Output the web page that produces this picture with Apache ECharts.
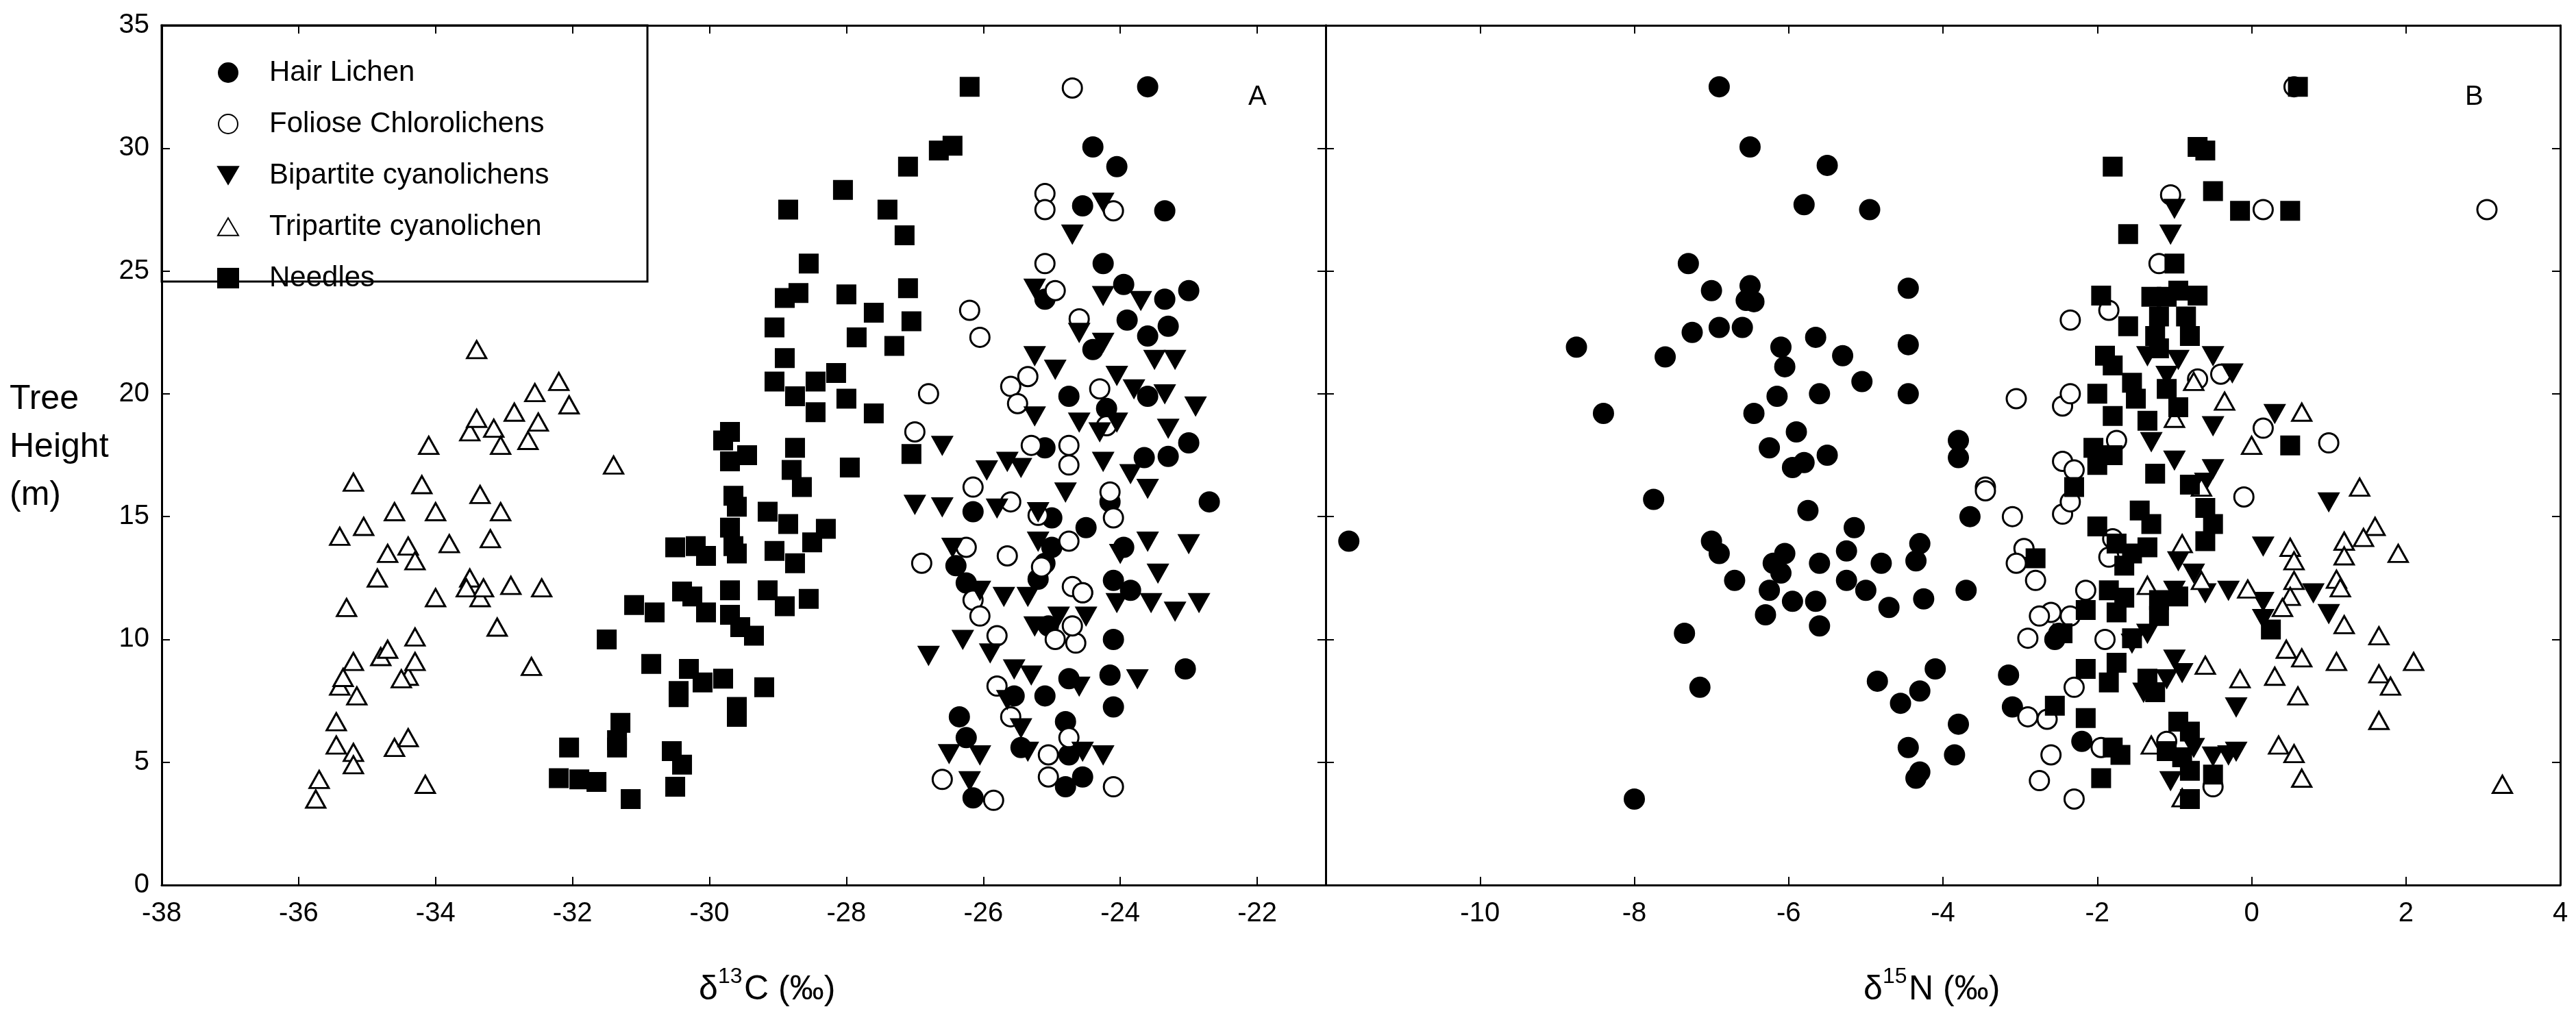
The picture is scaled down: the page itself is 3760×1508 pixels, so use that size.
<!DOCTYPE html>
<html>
<head>
<meta charset="utf-8">
<script src="https://cdn.jsdelivr.net/npm/echarts@6/dist/echarts.min.js"></script>
<style>html,body{margin:0;background:#fff}#c{width:3760px;height:1508px}</style>
</head>
<body>
<div id="c"></div>
<script>
var seriesNames = ['Hair Lichen', 'Foliose Chlorolichens', 'Bipartite cyanolichens', 'Tripartite cyanolichen', 'Needles'];
var xTicksC = [-38, -21, 2];
var xTicksN = [-12, 4, 2];
var yTicks = [0, 35, 5];

// panel A: d13C vs tree height
var hairC = [[-23.6,32.5],[-24.4,30.05],[-24.05,29.25],[-24.55,27.65],[-23.35,27.45],[-24.25,25.3],[-23.95,24.45],[-23.0,24.2],[-25.1,23.85],[-23.35,23.85],[-23.9,23.0],[-23.3,22.75],[-23.6,22.35],[-24.4,21.8],[-24.75,19.9],[-24.2,19.4],[-23.6,19.9],[-25.1,17.8],[-23.0,18.0],[-23.65,17.4],[-23.3,17.45],[-22.7,15.6],[-26.15,15.2],[-25.0,14.95],[-24.5,14.55],[-24.15,15.6],[-23.95,13.75],[-25.0,13.75],[-24.1,12.4],[-23.85,12.0],[-26.4,13.0],[-26.25,12.3],[-25.1,13.1],[-25.2,12.45],[-24.55,11.9],[-25.05,10.55],[-24.1,10.0],[-23.05,8.8],[-24.15,8.55],[-24.75,8.4],[-25.1,7.7],[-24.1,7.25],[-25.55,7.7],[-26.35,6.85],[-26.25,6.0],[-25.45,5.6],[-24.8,6.65],[-24.55,4.4],[-24.8,4.0],[-26.15,3.55],[-24.75,5.3]];
var folioseC = [[-24.7,32.45],[-25.1,28.15],[-25.1,27.5],[-24.1,27.45],[-25.1,25.3],[-24.95,24.2],[-24.6,23.05],[-26.2,23.4],[-26.05,22.3],[-26.8,20.0],[-25.6,20.3],[-25.35,20.7],[-25.5,19.6],[-24.3,20.2],[-27.0,18.45],[-25.3,17.9],[-24.75,17.9],[-24.75,17.1],[-26.15,16.2],[-25.6,15.6],[-24.1,14.95],[-24.15,16.0],[-26.9,13.1],[-26.25,13.75],[-25.65,13.4],[-25.15,12.95],[-24.75,14.0],[-24.7,12.15],[-24.55,11.9],[-26.15,11.6],[-26.05,10.95],[-25.8,10.15],[-24.95,10.0],[-24.65,9.85],[-24.7,10.55],[-25.8,8.1],[-25.6,6.85],[-24.75,6.0],[-25.05,5.3],[-25.05,4.4],[-26.6,4.3],[-25.85,3.45],[-24.1,4.0],[-24.2,18.7],[-25.2,15.05]];
var bipartiteC = [[-24.7,26.5],[-24.25,27.8],[-25.25,24.3],[-24.25,24.0],[-23.7,23.8],[-24.6,22.5],[-24.25,22.1],[-25.25,21.55],[-24.95,21.0],[-23.5,21.4],[-23.2,21.4],[-24.05,20.75],[-23.8,20.2],[-23.35,20.0],[-22.9,19.5],[-25.25,19.1],[-24.05,18.85],[-24.6,18.85],[-24.3,18.45],[-23.3,18.6],[-26.6,17.9],[-25.95,16.9],[-25.65,17.25],[-25.45,17.0],[-24.25,17.25],[-23.85,16.75],[-23.6,16.15],[-27.0,15.5],[-26.6,15.4],[-25.8,15.35],[-25.2,15.2],[-24.8,16.0],[-26.45,13.75],[-25.2,14.0],[-23.6,14.0],[-23.0,13.9],[-23.45,12.7],[-24.0,13.5],[-26.05,12.0],[-25.7,11.75],[-25.35,11.75],[-24.9,10.95],[-24.5,10.95],[-24.05,11.5],[-23.55,11.5],[-23.2,11.15],[-22.85,11.5],[-26.3,10.0],[-25.25,10.55],[-26.8,9.35],[-25.9,9.45],[-25.55,8.8],[-25.3,8.55],[-24.6,8.1],[-23.75,8.4],[-25.65,7.55],[-26.5,5.35],[-26.05,5.3],[-25.35,5.45],[-24.55,5.45],[-24.25,5.3],[-26.2,4.25],[-25.45,6.4]];
var tripartiteC = [[-35.75,3.5],[-35.7,4.3],[-35.45,6.65],[-35.45,5.7],[-35.4,8.1],[-35.35,8.45],[-35.3,11.3],[-35.2,16.4],[-35.4,14.2],[-35.2,9.1],[-35.15,7.7],[-35.2,5.4],[-35.2,4.9],[-35.05,14.6],[-34.85,12.5],[-34.8,9.3],[-34.7,9.6],[-34.7,13.5],[-34.6,15.2],[-34.6,5.6],[-34.4,6.0],[-34.4,8.5],[-34.5,8.4],[-34.4,13.8],[-34.3,13.2],[-34.3,10.1],[-34.3,9.1],[-34.2,16.3],[-34.15,4.1],[-34.1,17.9],[-34.0,15.2],[-34.0,11.7],[-33.8,13.9],[-33.5,18.45],[-33.4,21.8],[-33.4,19.0],[-33.5,12.5],[-33.55,12.1],[-33.35,15.9],[-33.35,11.7],[-33.3,12.1],[-33.2,14.1],[-33.15,18.6],[-33.05,17.9],[-33.05,15.2],[-33.1,10.5],[-32.85,19.25],[-32.9,12.2],[-32.65,18.1],[-32.55,20.05],[-32.5,18.85],[-32.45,12.1],[-32.6,8.9],[-32.2,20.5],[-32.05,19.55],[-31.4,17.1]];
var needlesC = [[-26.2,32.5],[-26.65,29.9],[-26.45,30.1],[-27.1,29.25],[-28.05,28.3],[-28.85,27.5],[-27.4,27.5],[-27.15,26.45],[-28.55,25.3],[-27.1,24.3],[-28.0,24.05],[-28.9,23.9],[-28.7,24.1],[-27.6,23.3],[-27.05,22.95],[-27.85,22.3],[-29.05,22.7],[-27.3,21.95],[-28.9,21.45],[-28.15,20.85],[-29.05,20.5],[-28.45,20.5],[-28.0,19.8],[-28.75,19.9],[-28.45,19.25],[-27.6,19.2],[-27.05,17.55],[-27.95,17.0],[-29.8,18.1],[-29.7,18.45],[-29.45,17.5],[-28.75,17.8],[-28.8,16.9],[-28.65,16.2],[-29.7,17.25],[-29.65,15.85],[-29.6,15.4],[-29.7,14.55],[-29.15,15.2],[-28.85,14.7],[-28.3,14.5],[-28.5,13.95],[-29.6,13.5],[-29.65,13.8],[-30.5,13.75],[-30.2,13.8],[-30.05,13.4],[-29.05,13.6],[-28.75,13.1],[-29.7,12.0],[-29.15,12.0],[-28.55,11.65],[-28.9,11.35],[-30.4,11.95],[-30.25,11.75],[-30.05,11.1],[-29.7,11.0],[-29.55,10.5],[-29.35,10.15],[-31.1,11.4],[-30.8,11.1],[-31.5,10.0],[-30.85,9.0],[-30.3,8.8],[-30.1,8.25],[-29.8,8.4],[-29.2,8.05],[-30.45,7.9],[-30.45,7.65],[-29.6,7.25],[-29.6,6.85],[-31.3,6.6],[-31.35,5.9],[-31.35,5.6],[-32.05,5.6],[-30.55,5.45],[-30.4,4.9],[-30.5,4.0],[-32.2,4.35],[-31.9,4.3],[-31.65,4.2],[-31.15,3.5]];

// panel B: d15N vs tree height
var hairN = [[-11.7,14.0],[-8.0,3.5],[-8.4,19.2],[-8.75,21.9],[-7.6,21.5],[-7.75,15.7],[-7.3,25.3],[-7.25,22.5],[-7.0,24.2],[-6.9,22.7],[-6.9,32.5],[-6.5,30.05],[-6.55,23.8],[-6.5,24.4],[-6.45,23.75],[-6.6,22.7],[-7.0,14.0],[-6.9,13.5],[-7.35,10.25],[-7.15,8.05],[-6.7,12.4],[-6.45,19.2],[-6.25,17.8],[-6.1,21.9],[-6.05,21.1],[-6.15,19.9],[-6.2,13.1],[-6.1,12.7],[-6.25,12.0],[-6.3,11.0],[-6.05,13.5],[-5.95,11.55],[-5.9,18.45],[-5.95,17.0],[-5.8,17.2],[-5.75,15.25],[-5.8,27.7],[-5.5,29.3],[-5.65,22.3],[-5.6,20.0],[-5.5,17.5],[-5.6,13.1],[-5.65,11.55],[-5.6,10.55],[-5.3,21.55],[-5.25,13.6],[-5.15,14.55],[-5.25,12.4],[-5.05,20.5],[-5.0,12.0],[-4.95,27.5],[-4.8,13.1],[-4.7,11.3],[-4.85,8.3],[-4.55,7.4],[-4.45,24.3],[-4.45,22.0],[-4.45,20.0],[-4.35,13.2],[-4.3,13.9],[-4.25,11.65],[-4.3,7.9],[-4.45,5.6],[-4.35,4.35],[-4.3,4.6],[-4.1,8.8],[-3.8,18.1],[-3.8,17.4],[-3.65,15.0],[-3.7,12.0],[-3.8,6.55],[-3.85,5.3],[-3.15,8.55],[-3.1,7.25],[-2.55,10.0],[-2.2,5.85],[-2.5,10.25]];
var folioseN = [[0.55,32.5],[3.05,27.5],[0.15,27.5],[-1.05,28.1],[-1.2,25.3],[-2.35,23.0],[-1.85,23.4],[-3.05,19.8],[-2.45,19.5],[-2.35,20.0],[0.15,18.6],[1.0,18.0],[-2.45,17.25],[-2.3,16.9],[-1.75,18.1],[-3.45,16.2],[-3.45,16.05],[-3.1,15.0],[-2.45,15.1],[-2.35,15.6],[-0.1,15.8],[-2.95,13.7],[-3.05,13.1],[-1.8,14.1],[-1.85,13.35],[-2.8,12.4],[-2.15,12.0],[-2.6,11.1],[-2.75,10.95],[-2.9,10.05],[-1.9,10.0],[-2.35,10.95],[-2.65,6.75],[-2.9,6.85],[-2.3,8.05],[-1.95,5.6],[-2.6,5.3],[-2.75,4.25],[-2.3,3.5],[-0.5,4.0],[-1.1,5.85],[-0.4,20.8],[-0.7,20.6]];
var bipartiteN = [[-1.0,27.55],[-1.05,26.5],[-0.95,21.4],[-0.5,21.55],[-0.25,20.85],[-1.1,20.75],[-1.35,21.55],[-0.5,18.7],[0.3,19.2],[-1.3,18.05],[-1.0,17.3],[-0.5,16.95],[-0.6,16.4],[1.0,15.6],[0.15,13.8],[-0.95,13.2],[-0.75,12.7],[-1.0,12.0],[-0.6,11.9],[-0.3,12.0],[0.15,11.55],[0.8,11.9],[1.0,11.05],[0.15,10.85],[-1.35,10.25],[-1.55,9.85],[-1.0,9.2],[-0.9,8.65],[-1.1,8.4],[-0.2,7.25],[-0.3,5.3],[-0.2,5.45],[-0.5,5.25],[-1.05,4.25],[-0.75,5.6],[-1.4,7.85]];
var tripartiteN = [[0.65,19.25],[0.0,17.9],[1.4,16.2],[1.6,14.6],[1.45,14.15],[1.2,14.0],[1.9,13.5],[1.2,13.4],[0.5,13.75],[0.55,13.2],[0.55,12.4],[1.1,12.45],[1.15,12.1],[-0.05,12.05],[0.5,11.75],[0.4,11.3],[1.2,10.6],[1.65,10.15],[0.45,9.6],[0.65,9.25],[1.1,9.1],[2.1,9.1],[1.65,8.6],[1.8,8.1],[-0.15,8.4],[0.3,8.5],[0.6,7.7],[1.65,6.7],[0.35,5.7],[0.55,5.35],[0.65,4.35],[3.25,4.1],[-1.35,12.2],[-0.9,13.9],[-0.6,8.95],[-1.3,5.7],[-0.9,3.55],[-0.65,16.2],[-0.35,19.7],[-1.0,19.0],[-0.75,20.5],[-0.65,12.4]];
var needlesN = [[0.6,32.5],[-1.8,29.25],[-0.7,30.05],[-0.6,29.9],[-0.5,28.25],[-0.15,27.45],[0.5,27.45],[-1.6,26.5],[-1.0,25.3],[-1.95,24.0],[-1.3,23.95],[-1.1,23.95],[-0.95,24.2],[-0.7,24.0],[-1.2,23.15],[-1.6,22.75],[-0.85,23.15],[-1.25,22.35],[-0.8,22.35],[-1.9,21.55],[-1.2,21.85],[-1.8,21.15],[-1.55,20.45],[-1.1,20.2],[-2.0,20.0],[-1.5,19.8],[-1.8,19.1],[-1.35,18.9],[-0.95,19.45],[-2.05,17.8],[-1.8,17.5],[0.5,17.9],[-2.0,17.1],[-1.25,16.75],[-0.8,16.3],[-2.3,16.2],[-1.45,15.25],[-0.6,15.35],[-1.3,14.7],[-0.5,14.7],[-2.0,14.6],[-0.6,14.0],[-1.75,13.9],[-1.55,13.5],[-1.35,13.75],[-2.8,13.3],[-1.65,13.0],[-1.85,12.0],[-1.65,11.7],[-1.2,11.6],[-0.95,11.75],[-1.75,11.1],[-2.15,11.2],[-1.2,10.95],[-2.45,10.25],[-1.55,10.05],[0.25,10.4],[-2.15,8.8],[-1.75,9.05],[-1.85,8.25],[-1.35,8.4],[-1.25,7.85],[-2.55,7.3],[-2.15,6.8],[-0.95,6.65],[-0.8,6.25],[-1.8,5.6],[-1.7,5.3],[-1.1,5.45],[-0.9,5.2],[-0.5,4.5],[-1.95,4.35],[-0.8,3.5],[-0.8,4.65]];

var FONT = 'Liberation Sans';
var down = 'path://M0,0L20,0L10,17Z';
var up = 'path://M10,0L20,17L0,17Z';
var styles = [
  {symbol: 'circle', size: 28, color: '#000', border: '#000'},
  {symbol: 'circle', size: 28, color: '#fff', border: '#000'},
  {symbol: down, size: [28, 25], color: '#000', border: '#000'},
  {symbol: up, size: [28, 25], color: '#fff', border: '#000'},
  {symbol: 'rect', size: 26, color: '#000', border: '#000'}
];
var dataC = [hairC, folioseC, bipartiteC, tripartiteC, needlesC];
var dataN = [hairN, folioseN, bipartiteN, tripartiteN, needlesN];

function xAxisFor(idx, t, pos, labels) {
  return {
    type: 'value', gridIndex: idx, position: pos, min: t[0], max: t[1], interval: t[2],
    axisLine: {onZero: false, lineStyle: {color: '#000', width: 3}},
    axisTick: {show: true, inside: true, length: 12, lineStyle: {color: '#000', width: 2}},
    axisLabel: {show: labels, color: '#000', fontFamily: FONT, fontSize: 40, margin: 22,
      showMinLabel: idx === 0, showMaxLabel: idx === 1},
    splitLine: {show: false}
  };
}
function yAxisFor(idx, pos, labels) {
  return {
    type: 'value', gridIndex: idx, position: pos, min: yTicks[0], max: yTicks[1], interval: yTicks[2],
    axisLine: {onZero: false, lineStyle: {color: '#000', width: 3}},
    axisTick: {show: true, inside: true, length: 12, lineStyle: {color: '#000', width: 2}},
    axisLabel: {show: labels, color: '#000', fontFamily: FONT, fontSize: 40, margin: 18},
    splitLine: {show: false}
  };
}

var series = [];
[dataC, dataN].forEach(function (set, g) {
  set.forEach(function (d, i) {
    var s = styles[i];
    series.push({
      name: seriesNames[i], type: 'scatter', xAxisIndex: g * 2, yAxisIndex: g * 2,
      data: d, symbol: s.symbol, symbolSize: s.size,
      itemStyle: {color: s.color, borderColor: s.border, borderWidth: 3, opacity: 1},
      emphasis: {disabled: true}
    });
  });
});

// axis title built from pieces so the isotope number sits raised
function isoTitle(x, num, tail) {
  var t = {fontFamily: FONT, fill: '#000'};
  return [
    {type: 'text', left: x, top: 1420, style: Object.assign({text: 'δ', fontSize: 50}, t)},
    {type: 'text', left: x + 28, top: 1410, style: Object.assign({text: num, fontSize: 32}, t)},
    {type: 'text', left: x + 66, top: 1420, style: Object.assign({text: tail, fontSize: 50}, t)}
  ];
}

var chart = echarts.init(document.getElementById('c'));
chart.setOption({
  animation: false,
  backgroundColor: '#fff',
  grid: [
    {left: 236, top: 37, width: 1699, height: 1255},
    {left: 1935, top: 37, width: 1802, height: 1255}
  ],
  xAxis: [
    xAxisFor(0, xTicksC, 'bottom', true), xAxisFor(0, xTicksC, 'top', false),
    xAxisFor(1, xTicksN, 'bottom', true), xAxisFor(1, xTicksN, 'top', false)
  ],
  yAxis: [
    yAxisFor(0, 'left', true), yAxisFor(0, 'right', false),
    yAxisFor(1, 'left', false), yAxisFor(1, 'right', false)
  ],
  legend: {
    left: 312, top: 80, orient: 'vertical', itemGap: 33, itemWidth: 30, itemHeight: 28,
    textStyle: {fontFamily: FONT, fontSize: 42, color: '#000', padding: [0, 0, 0, 40]},
    data: seriesNames
  },
  graphic: [
    {type: 'rect', shape: {x: 236, y: 37, width: 709, height: 374}, style: {fill: 'none', stroke: '#000', lineWidth: 3}, z: 100},
    {type: 'text', left: 1822, top: 122, style: {text: 'A', fontFamily: FONT, fontSize: 40, fill: '#000'}},
    {type: 'text', left: 3598, top: 122, style: {text: 'B', fontFamily: FONT, fontSize: 40, fill: '#000'}},
    {type: 'text', left: 14, top: 548, style: {text: 'Tree\nHeight\n(m)', fontFamily: FONT, fontSize: 50, lineHeight: 70, fill: '#000'}}
  ].concat(isoTitle(1020, '13', 'C (‰)'), isoTitle(2720, '15', 'N (‰)')),
  series: series
});
</script>
</body>
</html>
